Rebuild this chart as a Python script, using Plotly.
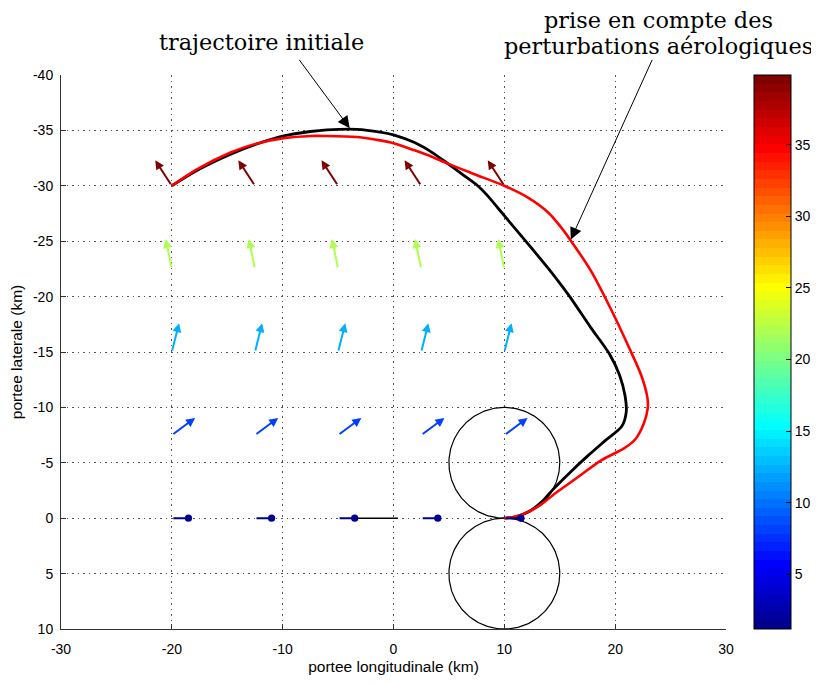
import numpy as np
import plotly.graph_objects as go

# ---------------- data ----------------
# initial trajectory (km)
x_init = [-20.0, -17.7, -14.7, -12.4, -9.9, -7.5, -6.0, -3.3, -1.2, 0.0, 1.9, 3.5, 4.9, 6.4,
          7.6, 8.4, 10.0, 12.1, 14.0, 15.9, 17.8, 19.5, 20.4, 20.9, 21.0, 20.6, 19.1,
          17.5, 16.0, 14.4, 13.4, 12.3, 11.1, 10.0]
y_init = [-30.0, -31.4, -32.85, -33.75, -34.5, -34.9, -35.05, -35.1, -34.85, -34.6, -33.9, -33.0, -32.0, -30.9,
          -30.0, -29.2, -27.3, -24.8, -22.5, -20.0, -17.2, -14.8, -12.9, -11.0, -9.6, -8.3, -7.0,
          -5.6, -4.2, -2.6, -1.5, -0.65, -0.15, 0.0]

# trajectory with aerological perturbations (km)
x_pert = [-20.0, -17.7, -14.7, -12.4, -9.9, -7.5, -6.0, -3.3, -1.2, 0.0, 1.9, 3.4, 4.9, 7.3,
          10.0, 12.1, 14.0, 15.0, 16.0, 17.8, 19.7, 21.25, 22.35, 22.9, 22.95, 22.6, 21.8, 20.8,
          18.7, 16.5, 14.6, 13.2, 11.8, 10.7, 10.0]
y_pert = [-30.0, -31.5, -33.0, -33.8, -34.3, -34.5, -34.5, -34.4, -34.1, -33.85, -33.2, -32.65, -32.0, -31.05,
          -30.0, -28.95, -27.55, -26.4, -25.05, -22.34, -18.7, -15.4, -12.9, -10.93, -10.0, -8.6, -7.1, -6.3,
          -5.2, -3.6, -2.25, -1.15, -0.4, -0.08, 0.0]

# wind field (quiver)
grid_x = [-20.0, -12.5, -5.0, 2.5, 10.0]
grid_y = [0.0, -7.5, -15.0, -22.5, -30.0]
wind_u = [1.5, 2.1, 0.65, -0.55, -1.5]
wind_v = [0.0, -1.55, -2.6, -2.7, -2.3]
wind_speed = [1.2, 8.3, 12.4, 22.2, 39.9]

# circles (turn radius)
circle_cx = [10.0, 10.0]
circle_cy = [-5.0, 5.0]
circle_r = [5.0, 5.0]

# short black segment on y = 0
segment_x = [-3.7, 0.4]
segment_y = [0.0, 0.0]

# axes ticks
x_ticks = [-30, -20, -10, 0, 10, 20, 30]
x_ticklabels = ["-30", "-20", "-10", "0", "10", "20", "30"]
y_ticks = [-40, -35, -30, -25, -20, -15, -10, -5, 0, 5, 10]
y_ticklabels = ["-40", "-35", "-30", "-25", "-20", "-15", "-10", "-5", "0", "5", "10"]
cbar_ticks = [5, 10, 15, 20, 25, 30, 35]
cbar_min, cbar_max = 1.18, 39.87

# ---------------- colormap (MATLAB jet, 64 levels) ----------------
def matlab_jet(m=64):
    n = int(np.ceil(m / 4))
    u = np.concatenate([np.arange(1, n + 1) / n, np.ones(n - 1), np.arange(n, 0, -1) / n])
    g = int(np.ceil(n / 2)) - (1 if m % 4 == 1 else 0) + np.arange(1, len(u) + 1)
    r = g + n
    b = g - n
    J = np.zeros((m, 3))
    for idx_arr, ch in ((r, 0), (g, 1), (b, 2)):
        for k, idx in enumerate(idx_arr):
            if 1 <= idx <= m:
                J[idx - 1, ch] = u[k]
    return J

JET = matlab_jet(64)

def rgb(c):
    return "rgb(%d,%d,%d)" % tuple(int(round(v * 255)) for v in c)

jet_scale = []
for i in range(64):
    jet_scale.append([i / 64, rgb(JET[i])])
    jet_scale.append([(i + 1) / 64, rgb(JET[i])])

def color_of(v):
    idx = int((v - cbar_min) / (cbar_max - cbar_min) * 64)
    idx = max(0, min(63, idx))
    return rgb(JET[idx])

# page body has an 8px default margin: size the figure so the plot lands where intended
W, H = 811, 676

# ---------------- figure ----------------
fig = go.Figure()

theta = np.linspace(0, 2 * np.pi, 200)
for cx, cy, r in zip(circle_cx, circle_cy, circle_r):
    fig.add_trace(go.Scatter(x=cx + r * np.cos(theta), y=cy + r * np.sin(theta), mode="lines",
                             line=dict(color="black", width=1.2), showlegend=False, hoverinfo="skip"))

fig.add_trace(go.Scatter(x=segment_x, y=segment_y, mode="lines",
                         line=dict(color="black", width=1.6), showlegend=False, hoverinfo="skip"))

fig.add_trace(go.Scatter(x=x_init, y=y_init, mode="lines",
                         line=dict(color="black", width=2.8, shape="spline", smoothing=0.8),
                         showlegend=False, hoverinfo="skip"))
fig.add_trace(go.Scatter(x=x_pert, y=y_pert, mode="lines",
                         line=dict(color="#ff0000", width=2.6, shape="spline", smoothing=0.8),
                         showlegend=False, hoverinfo="skip"))

# invisible trace carrying the colour bar
tail_x = [gx for gy in grid_y for gx in grid_x]
tail_y = [gy for gy in grid_y for gx in grid_x]
tail_c = [s for s in wind_speed for gx in grid_x]
fig.add_trace(go.Scatter(
    x=tail_x, y=tail_y, mode="markers",
    marker=dict(size=1, opacity=0, color=tail_c, colorscale=jet_scale, cmin=cbar_min, cmax=cbar_max,
                showscale=True,
                colorbar=dict(xref="container", x=(754 - 8) / W, xanchor="left", xpad=0, ypad=0,
                              y=0.5, yanchor="middle",
                              len=1, lenmode="fraction", thickness=37, thicknessmode="pixels",
                              outlinecolor="black", outlinewidth=1,
                              tickvals=cbar_ticks, ticktext=[str(t) for t in cbar_ticks],
                              ticks="inside", ticklen=5, tickcolor="black",
                              tickfont=dict(family="Liberation Sans, Arial", size=14, color="black"))),
    showlegend=False, hoverinfo="skip"))

annotations = []
for gy, u, v, s in zip(grid_y, wind_u, wind_v, wind_speed):
    col = color_of(s)
    for gx in grid_x:
        head = 6 if v == 0 else 2
        annotations.append(dict(x=gx + u, y=gy + v, ax=gx, ay=gy, xref="x", yref="y",
                                axref="x", ayref="y", text="", showarrow=True,
                                arrowhead=head, arrowsize=0.9,
                                arrowwidth=2, arrowcolor=col, standoff=0))

# call-out arrows
annotations.append(dict(x=-3.95, y=-35.2, ax=-8.6, ay=-41.5, xref="x", yref="y", axref="x", ayref="y",
                        text="", showarrow=True, arrowhead=2, arrowsize=2.4, arrowwidth=1,
                        arrowcolor="black", standoff=0))
annotations.append(dict(x=16.0, y=-25.15, ax=23.4, ay=-41.5, xref="x", yref="y", axref="x", ayref="y",
                        text="", showarrow=True, arrowhead=2, arrowsize=2.4, arrowwidth=1,
                        arrowcolor="black", standoff=0))

serif = dict(family="DejaVu Serif", size=22.4, color="black")
annotations.append(dict(x=0.3008, y=1.0596, xref="paper", yref="paper", text="trajectoire initiale",
                        showarrow=False, font=serif, xanchor="center", yanchor="middle"))
annotations.append(dict(x=0.899, y=1.099, xref="paper", yref="paper", text="prise en compte des",
                        showarrow=False, font=serif, xanchor="center", yanchor="middle"))
annotations.append(dict(x=0.899, y=1.052, xref="paper", yref="paper", text="perturbations aérologiques",
                        showarrow=False, font=serif, xanchor="center", yanchor="middle"))

axis_common = dict(showline=True, linecolor="#333333", linewidth=1, mirror=False,
                   ticks="inside", ticklen=5, tickcolor="#333333",
                   showgrid=True, gridcolor="#555555", gridwidth=1, griddash="1.5px,4px",
                   zeroline=False,
                   tickfont=dict(family="Liberation Sans, Arial", size=14, color="black"),
                   title_font=dict(family="Liberation Sans, Arial", size=15.5, color="black"))

fig.update_layout(
    width=W, height=H, autosize=False,
    margin=dict(l=53, r=93, t=67, b=55, autoexpand=False),
    paper_bgcolor="white", plot_bgcolor="white",
    annotations=annotations,
    xaxis=dict(range=[-30, 30], tickvals=x_ticks, ticktext=x_ticklabels,
               title=dict(text="portee longitudinale (km)", standoff=5),
               ticklabelstandoff=7, **axis_common),
    yaxis=dict(range=[10, -40], tickvals=y_ticks, ticktext=y_ticklabels,
               title=dict(text="portee laterale (km)", standoff=8),
               ticklabelstandoff=4, **axis_common),
)

fig.write_html("out.html")
